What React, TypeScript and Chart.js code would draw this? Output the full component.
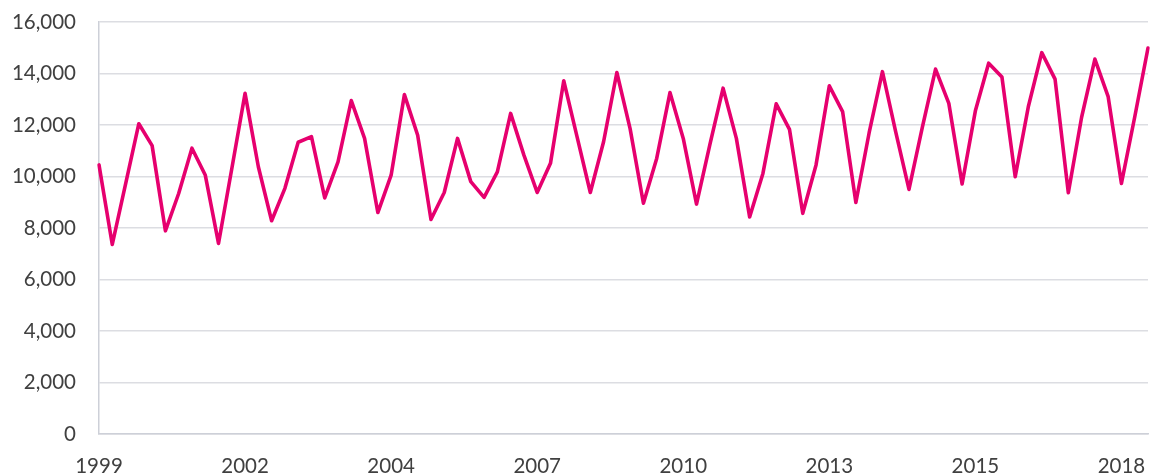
import React, { useEffect, useRef } from "react";
import { Chart, registerables } from "chart.js";

Chart.register(...registerables);

const years = [
  1999, 2000, 2001, 2002, 2003, 2004, 2005, 2006, 2007, 2008,
  2009, 2010, 2011, 2012, 2013, 2014, 2015, 2016, 2017, 2018,
];
const quarters = ["Q1", "Q2", "Q3", "Q4"];
const categories: string[] = [];
years.forEach((y) => quarters.forEach((q) => categories.push(`${y} ${q}`)));

const seriesValues = [
  10450, 7360, 9700, 12050, 11200, 7890, 9340, 11100, 10060, 7400,
  10300, 13230, 10380, 8280, 9540, 11330, 11550, 9170, 10570, 12950,
  11480, 8600, 10050, 13180, 11600, 8330, 9380, 11480, 9800, 9190,
  10180, 12450, 10830, 9380, 10510, 13720, 11550, 9380, 11350, 14040,
  11850, 8960, 10700, 13260, 11480, 8930, 11230, 13430, 11480, 8430,
  10120, 12820, 11830, 8570, 10450, 13520, 12520, 8990, 11700, 14070,
  11730, 9500, 11900, 14170, 12840, 9710, 12550, 14400, 13860, 9990,
  12740, 14810, 13780, 9370, 12300, 14560, 13100, 9730, 12310, 14990,
];

const xTickLabels = ["1999", "2002", "2004", "2007", "2010", "2013", "2015", "2018"];
const xTickEvery = 11;
const yMin = 0;
const yMax = 16000;
const yStep = 2000;

export default function App() {
  const ref = useRef<HTMLCanvasElement | null>(null);
  useEffect(() => {
    if (!ref.current) return;
    const font = { family: "Lato", size: 20.5 };
    const chart = new Chart(ref.current, {
      type: "line",
      data: {
        labels: categories,
        datasets: [
          {
            data: seriesValues,
            borderColor: "#E6006E",
            borderWidth: 3.6,
            pointRadius: 0,
            tension: 0,
            borderJoinStyle: "round",
            borderCapStyle: "round",
            fill: false,
          },
        ],
      },
      options: {
        animation: false,
        responsive: false,
        maintainAspectRatio: false,
        layout: { padding: { top: 22, right: 8, left: 0, bottom: 0 } },
        plugins: { legend: { display: false }, tooltip: { enabled: false } },
        scales: {
          x: {
            grid: { display: false, drawTicks: false },
            border: { display: true, color: "#CDD0D8", width: 1.5 },
            ticks: {
              autoSkip: false,
              maxRotation: 0,
              minRotation: 0,
              padding: 20,
              color: "#404040",
              font,
              callback: (_v: any, i: number) =>
                i % xTickEvery === 0 ? xTickLabels[i / xTickEvery] ?? null : null,
            },
            afterFit: (s: any) => {
              s.height = 40;
              s.paddingLeft = 0;
              s.paddingRight = 0;
            },
          },
          y: {
            min: yMin,
            max: yMax,
            grid: { color: "#DCDDE2", lineWidth: 1.5, drawTicks: false },
            border: { display: true, color: "#CDD0D8", width: 1.5 },
            ticks: {
              stepSize: yStep,
              padding: 23,
              color: "#404040",
              font,
              callback: (v: any) => Number(v).toLocaleString("en-US"),
            },
            afterFit: (s: any) => {
              s.width = 99;
              s.paddingTop = 0;
              s.paddingBottom = 0;
            },
          },
        },
      },
    });
    return () => chart.destroy();
  }, []);
  return (
    <div style={{ position: "fixed", left: 0, top: 0, width: 1156, height: 474, background: "#fff" }}>
      <canvas ref={ref} width={1156} height={474} style={{ display: "block" }} />
    </div>
  );
}
